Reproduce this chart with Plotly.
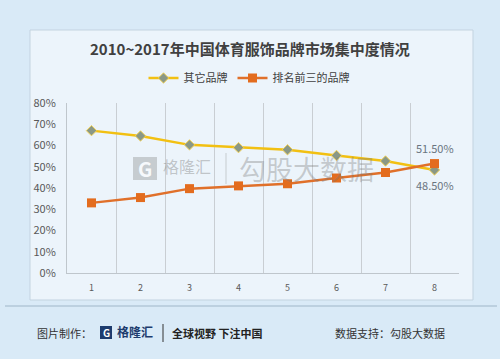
import plotly.graph_objects as go

categories = [1, 2, 3, 4, 5, 6, 7, 8]
tick_labels = ["1", "2", "3", "4", "5", "6", "7", "8"]
others = [67.0, 64.5, 60.3, 59.0, 58.0, 55.3, 52.7, 48.5]
top3 = [33.0, 35.5, 39.7, 41.0, 42.0, 44.7, 47.3, 51.5]
y_ticks = [0, 10, 20, 30, 40, 50, 60, 70, 80]
y_tick_labels = ["0%", "10%", "20%", "30%", "40%", "50%", "60%", "70%", "80%"]
series_names = ["其它品牌", "排名前三的品牌"]
title_text = "2010~2017年中国体育服饰品牌市场集中度情况"

FONT = "Noto Sans CJK SC"

fig = go.Figure()
fig.add_trace(go.Scatter(
    x=categories, y=others, name=series_names[0], mode="lines+markers",
    line=dict(color="#F2C012", width=2.5),
    marker=dict(symbol="diamond", size=8, color="#8A9886", line=dict(color="#F4D35A", width=1)),
))
fig.add_trace(go.Scatter(
    x=categories, y=top3, name=series_names[1], mode="lines+markers",
    line=dict(color="#E0702A", width=2.5),
    marker=dict(symbol="square", size=9, color="#E36C1E"),
))

def px(x):
    return (x - 67) / 392

def py(y):
    return (273 - y) / 170

shapes = [
    # chart panel
    dict(type="rect", xref="paper", yref="paper",
         x0=px(30), x1=px(473), y0=py(300), y1=py(30),
         fillcolor="rgba(238,246,252,0.85)", line=dict(color="#c3d3e0", width=1), layer="below"),
    # footer separator
    dict(type="line", xref="paper", yref="paper",
         x0=px(5), x1=px(497), y0=py(306), y1=py(306),
         line=dict(color="#9fb6c8", width=1), layer="below"),
    # footer logo square
    dict(type="rect", xref="paper", yref="paper",
         x0=px(100), x1=px(112), y0=py(339), y1=py(326),
         fillcolor="#1d3c6e", line_width=0),
    # footer separator bar
    dict(type="line", xref="paper", yref="paper",
         x0=px(163), x1=px(163), y0=py(342), y1=py(324),
         line=dict(color="#333", width=1)),
    # watermark logo
    dict(type="rect", xref="paper", yref="paper",
         x0=px(133), x1=px(157), y0=py(180), y1=py(157),
         fillcolor="rgba(130,130,130,0.35)", line_width=0, layer="below"),
    dict(type="line", xref="paper", yref="paper",
         x0=px(226), x1=px(226), y0=py(184), y1=py(153),
         line=dict(color="rgba(130,130,130,0.35)", width=1)),
]

def ann(text, x, y, size, color, xanchor="center"):
    return dict(text=text, x=px(x), y=py(y), xref="paper", yref="paper",
                xanchor=xanchor, yanchor="middle", showarrow=False,
                font=dict(family=FONT, size=size, color=color))

annotations = [
    ann("<b>" + title_text + "</b>", 250, 48, 15, "#404040"),
    ann("图片制作：", 35, 333, 11, "#333", "left"),
    ann("<b>G</b>", 106, 332.5, 10, "#ffffff"),
    ann("<b>格隆汇</b>", 115, 331, 12, "#1d3c6e", "left"),
    ann("<b>全球视野 下注中国</b>", 170, 333, 11, "#222", "left"),
    ann("数据支持：勾股大数据", 333, 333, 11, "#333", "left"),
    # watermark
    ann("<b>G</b>", 145, 168.5, 20, "rgba(250,252,255,0.95)"),
    ann("格隆汇", 161, 166, 16, "rgba(120,120,120,0.4)", "left"),
    ann("勾股大数据", 237, 168, 27, "rgba(120,120,120,0.35)", "left"),
    # data labels on last point
    dict(text="%.2f%%" % top3[-1], x=categories[-1], y=top3[-1], xref="x", yref="y",
         yshift=16, showarrow=False, font=dict(family=FONT, size=11, color="#6A7480")),
    dict(text="%.2f%%" % others[-1], x=categories[-1], y=others[-1], xref="x", yref="y",
         yshift=-15, showarrow=False, font=dict(family=FONT, size=11, color="#6A7480")),
]

fig.update_layout(
    width=500, height=359,
    margin=dict(l=67, r=41, t=103, b=86, autoexpand=False),
    paper_bgcolor="#d9eaf7", plot_bgcolor="rgba(0,0,0,0)",
    font=dict(family=FONT, color="#595959"),
    showlegend=True,
    legend=dict(orientation="h", x=px(249), xanchor="center", y=py(78), yanchor="middle",
                xref="paper", yref="paper", bgcolor="rgba(0,0,0,0)",
                font=dict(family=FONT, size=11, color="#404040"), itemwidth=30,
                tracegroupgap=0),
    shapes=shapes, annotations=annotations,
    xaxis=dict(range=[0.5, 8.5], tickvals=categories, ticktext=tick_labels, showgrid=False,
               zeroline=False, showline=True, linecolor="#bfc6cc", linewidth=1,
               tickfont=dict(family=FONT, size=9, color="#595959"), ticks="",
               ticklabelstandoff=6,
               minor=dict(tickvals=[1.5, 2.5, 3.5, 4.5, 5.5, 6.5, 7.5, 8.5], showgrid=True,
                          gridcolor="#c9ced3", gridwidth=1, ticks="")),
    yaxis=dict(range=[0, 80], tickvals=y_ticks, ticktext=y_tick_labels, showgrid=False, zeroline=False,
               showline=True, linecolor="#bfc6cc", linewidth=1, ticks="",
               ticklabelstandoff=8,
               tickfont=dict(family=FONT, size=11, color="#595959")),
)

fig.write_html("out.html", config={"displayModeBar": False},
               post_script="document.body.style.margin='0';document.body.style.overflow='hidden';")
